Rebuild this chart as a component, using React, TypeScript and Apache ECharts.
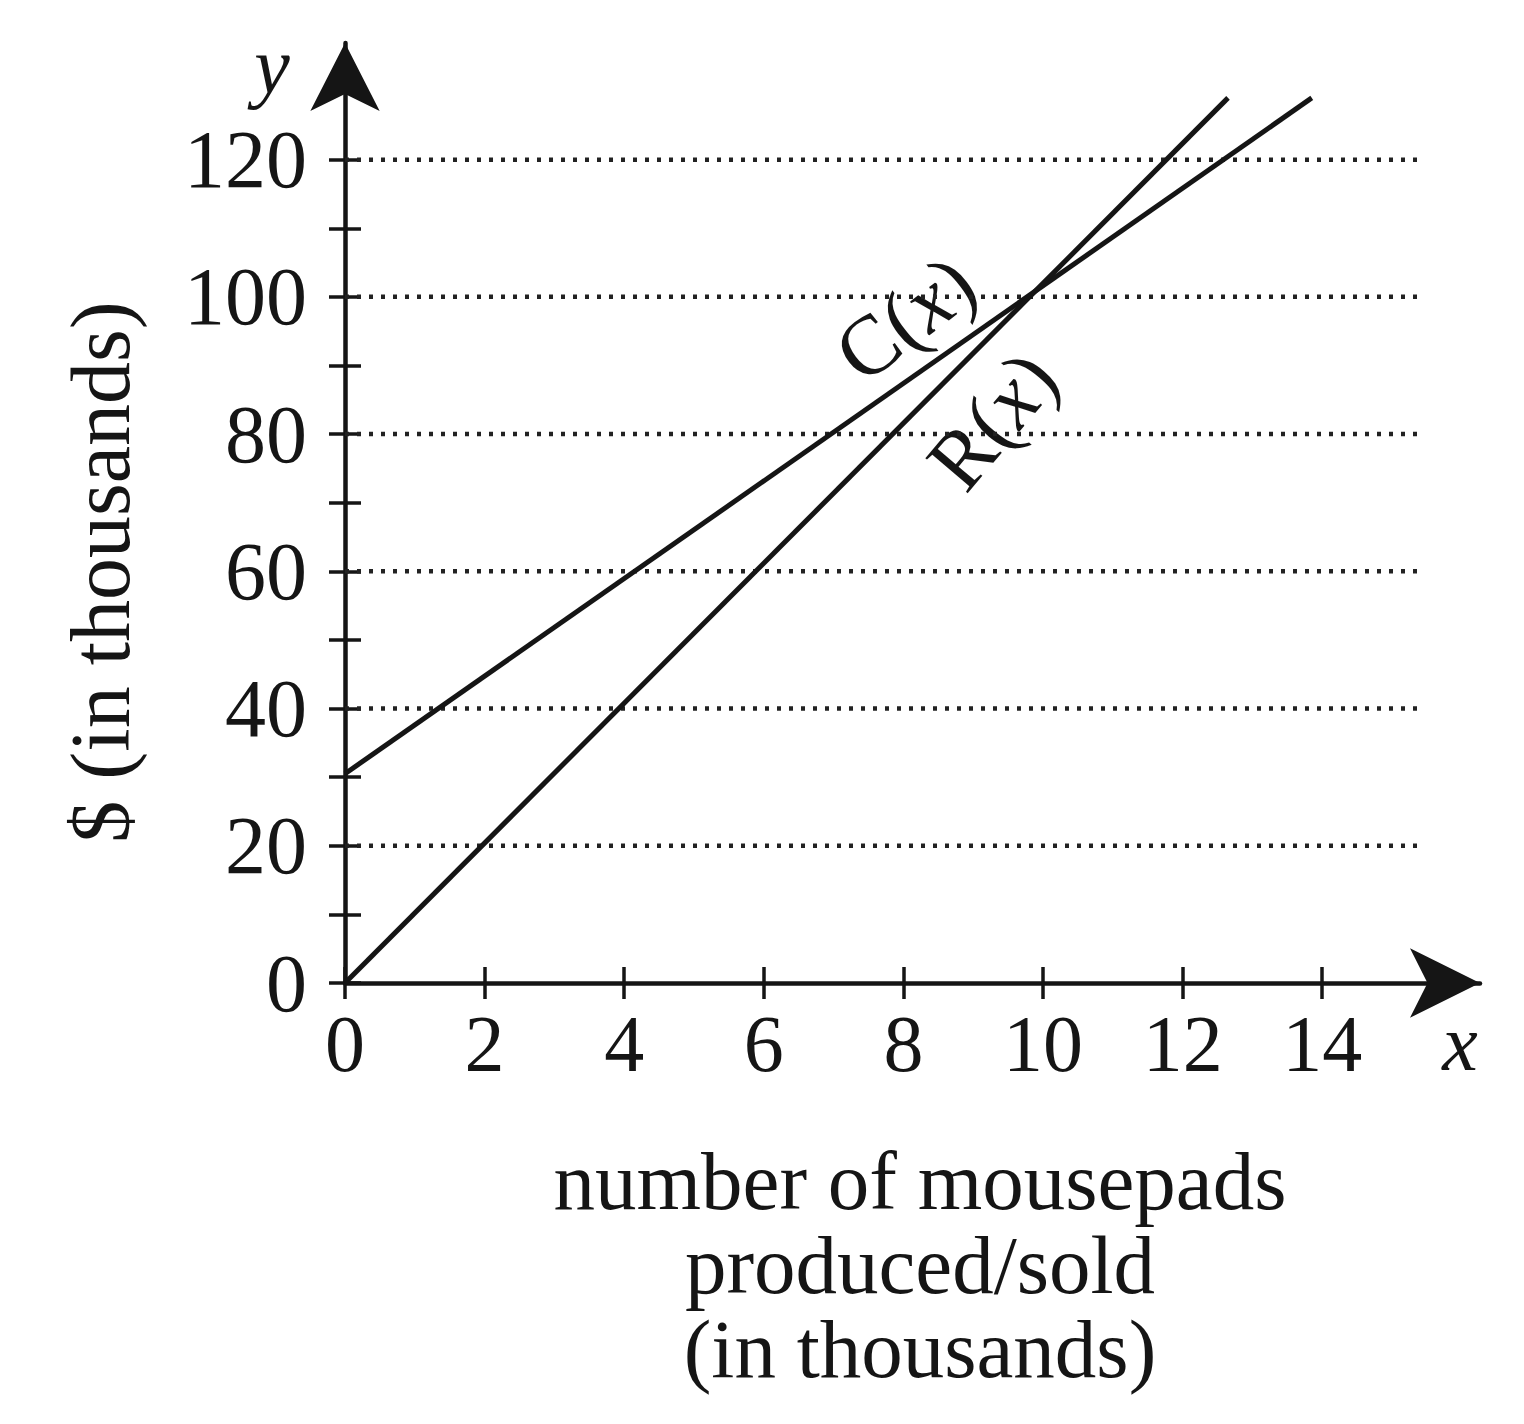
import React, { useEffect, useRef } from "react";
import * as echarts from "echarts";

// ---- data ----
const xTickValues = [0, 2, 4, 6, 8, 10, 12, 14];
const yTickValues = [0, 10, 20, 30, 40, 50, 60, 70, 80, 90, 100, 110, 120];
const yLabelValues = [0, 20, 40, 60, 80, 100, 120];
const gridValues = [20, 40, 60, 80, 100, 120];
const gridEndX = 15.45;
const costLine: [number, number][] = [
  [0, 30.5],
  [13.85, 129],
];
const revenueLine: [number, number][] = [
  [0, 0],
  [12.65, 129],
];
const xNameLines = ["number of mousepads", "produced/sold", "(in thousands)"];

const FONT = "Liberation Serif";
const INK = "#151515";

export default function App() {
  const ref = useRef<HTMLDivElement>(null);
  useEffect(() => {
    if (!ref.current) return;
    const chart = echarts.init(ref.current, null, { renderer: "svg" });
    const gridSeries = gridValues.map((v) => ({
      type: "line",
      silent: true,
      symbol: "none",
      z: 1,
      data: [
        [0, v],
        [gridEndX, v],
      ],
      lineStyle: { color: "#222", width: 4.5, type: [4, 8] },
    }));
    const tickStyle = { color: INK, width: 3.5 };
    const xNameTexts = xNameLines.map((t, i) => ({
      type: "text",
      x: 920,
      y: 1181 + i * 84,
      style: {
        text: t,
        fontFamily: FONT,
        fontSize: 83,
        lineHeight: 83,
        fill: INK,
        align: "center",
        verticalAlign: "middle",
      },
    }));
    chart.setOption({
      animation: false,
      backgroundColor: "#fff",
      grid: { left: 345, right: 44, top: 43, bottom: 441, containLabel: false },
      xAxis: [
        {
          type: "value",
          min: 0,
          max: 16.26,
          axisLine: {
            show: true,
            onZero: false,
            symbol: ["none", "arrow"],
            symbolSize: [52, 70],
            lineStyle: { color: INK, width: 4.5 },
          },
          axisTick: { show: true, customValues: xTickValues, length: 16, lineStyle: tickStyle },
          axisLabel: {
            customValues: xTickValues,
            fontFamily: FONT,
            fontSize: 80,
            color: INK,
            margin: 21,
          },
          splitLine: { show: false },
        },
        {
          type: "value",
          min: 0,
          max: 16.26,
          position: "bottom",
          axisLine: { show: false },
          axisTick: { show: true, inside: true, customValues: xTickValues, length: 16, lineStyle: tickStyle },
          axisLabel: { show: false },
          splitLine: { show: false },
        },
      ],
      yAxis: [
        {
          type: "value",
          min: 0,
          max: 137,
          axisLine: {
            show: true,
            onZero: false,
            symbol: ["none", "arrow"],
            symbolSize: [52, 68],
            lineStyle: { color: INK, width: 4.5 },
          },
          axisTick: { show: true, customValues: yTickValues, length: 16, lineStyle: tickStyle },
          axisLabel: {
            customValues: yLabelValues,
            fontFamily: FONT,
            fontSize: 82,
            color: INK,
            margin: 38,
          },
          splitLine: { show: false },
        },
        {
          type: "value",
          min: 0,
          max: 137,
          position: "left",
          axisLine: { show: false },
          axisTick: { show: true, inside: true, customValues: yTickValues, length: 16, lineStyle: tickStyle },
          axisLabel: { show: false },
          splitLine: { show: false },
        },
      ],
      series: [
        ...gridSeries,
        {
          name: "C(x)",
          type: "line",
          symbol: "none",
          z: 3,
          data: costLine,
          lineStyle: { color: INK, width: 5 },
        },
        {
          name: "R(x)",
          type: "line",
          symbol: "none",
          z: 3,
          data: revenueLine,
          lineStyle: { color: INK, width: 5 },
        },
      ],
      graphic: [
        {
          type: "text",
          x: 100,
          y: 572,
          rotation: Math.PI / 2,
          style: {
            text: "$ (in thousands)",
            fontFamily: FONT,
            fontSize: 84,
            fill: INK,
            align: "center",
            verticalAlign: "middle",
          },
        },
        ...xNameTexts,
        {
          type: "text",
          x: 272,
          y: 66,
          style: {
            text: "y",
            fontFamily: FONT,
            fontStyle: "italic",
            fontSize: 80,
            fill: INK,
            align: "center",
            verticalAlign: "middle",
          },
        },
        {
          type: "text",
          x: 1460,
          y: 1043,
          style: {
            text: "x",
            fontFamily: FONT,
            fontStyle: "italic",
            fontSize: 80,
            fill: INK,
            align: "center",
            verticalAlign: "middle",
          },
        },
        {
          type: "text",
          x: 905,
          y: 318,
          rotation: 0.65,
          style: {
            text: "{n|C(}{i|x}{n|)}",
            fill: INK,
            align: "center",
            verticalAlign: "middle",
            rich: {
              n: { fontFamily: FONT, fontSize: 84, fill: INK },
              i: { fontFamily: FONT, fontSize: 84, fontStyle: "italic", fill: INK },
            },
          },
        },
        {
          type: "text",
          x: 992,
          y: 420,
          rotation: 0.87,
          style: {
            text: "{n|R(}{i|x}{n|)}",
            fill: INK,
            align: "center",
            verticalAlign: "middle",
            rich: {
              n: { fontFamily: FONT, fontSize: 84, fill: INK },
              i: { fontFamily: FONT, fontSize: 84, fontStyle: "italic", fill: INK },
            },
          },
        },
      ],
    });
    return () => chart.dispose();
  }, []);
  return (
    <div
      ref={ref}
      style={{ position: "absolute", left: 0, top: 0, width: 1524, height: 1424, background: "#fff" }}
    />
  );
}
